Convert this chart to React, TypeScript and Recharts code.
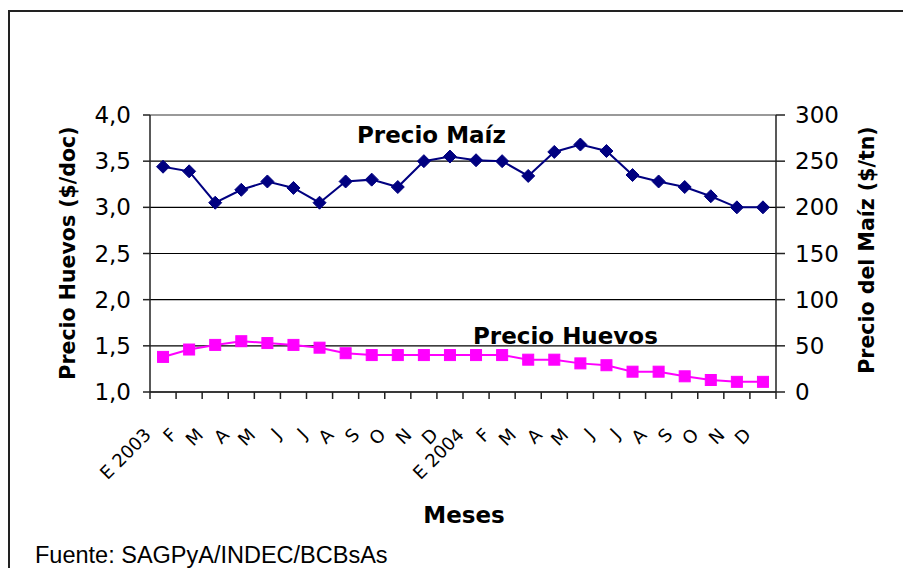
import React from "react";
import { LineChart, Line, XAxis, YAxis, CartesianGrid, ReferenceLine } from "recharts";

const months = ["E 2003", "F", "M", "A", "M", "J", "J", "A", "S", "O", "N", "D", "E 2004", "F", "M", "A", "M", "J", "J", "A", "S", "O", "N", "D"];
const maiz = [244, 239, 205, 219, 228, 221, 205, 228, 230, 222, 250, 255, 251, 250, 234, 260, 268, 261, 235, 228, 222, 212, 200, 200];
const huevos = [1.38, 1.46, 1.51, 1.55, 1.53, 1.51, 1.48, 1.42, 1.4, 1.4, 1.4, 1.4, 1.4, 1.4, 1.35, 1.35, 1.31, 1.29, 1.22, 1.22, 1.17, 1.13, 1.11, 1.11];
const leftTicks = [1, 1.5, 2, 2.5, 3, 3.5, 4];
const rightTicks = [0, 50, 100, 150, 200, 250, 300];

const data = months.map((m, i) => ({ key: i, month: m, maiz: maiz[i], huevos: huevos[i] }));

const W = 903;
const H = 568;
const LEFT_W = 150;
const RIGHT_W = 127;
const TOP = 115;
const X_H = 176;
const STEP = (W - LEFT_W - RIGHT_W) / months.length;
const FONT = "'Liberation Sans', Arial, sans-serif";
const WFONT = "'DejaVu Sans', sans-serif";

const XTick = (props: any) => {
  const { x, y, payload, index, visibleTicksCount } = props;
  const ax = x - 11;
  const ay = y + 44;
  return (
    <g>
      <line x1={x - STEP / 2} x2={x - STEP / 2} y1={y} y2={y + 7} stroke="#222" strokeWidth={1.5} />
      {index === visibleTicksCount - 1 && (
        <line x1={x + STEP / 2} x2={x + STEP / 2} y1={y} y2={y + 7} stroke="#222" strokeWidth={1.5} />
      )}
      <text x={ax} y={ay} transform={`rotate(-45 ${ax} ${ay})`} textAnchor="end" fontSize={18} fontFamily={WFONT} fill="#000">
        {months[payload.value]}
      </text>
    </g>
  );
};

const Diamond = (props: any) => {
  const { cx, cy, index } = props;
  if (cx == null || cy == null) return <g key={`d${index}`} />;
  const r = 6.5;
  return <path key={`d${index}`} d={`M${cx},${cy - r}L${cx + r},${cy}L${cx},${cy + r}L${cx - r},${cy}Z`} fill="#000080" stroke="#000080" />;
};

const Square = (props: any) => {
  const { cx, cy, index } = props;
  if (cx == null || cy == null) return <g key={`s${index}`} />;
  const s = 5.5;
  return <rect key={`s${index}`} x={cx - s} y={cy - s} width={2 * s} height={2 * s} fill="#FF00FF" stroke="#FF00FF" />;
};

export default function App() {
  return (
    <div style={{ position: "absolute", left: 0, top: 0, width: W, height: H, background: "#fff", overflow: "hidden" }}>
      <div style={{ position: "absolute", left: 8, top: 10, width: 2000, height: 2000, borderLeft: "2px solid #222", borderTop: "2px solid #222" }} />
      <div style={{ position: "absolute", left: 0, top: 0 }}>
        <LineChart width={W} height={H} data={data} margin={{ top: TOP, right: 0, bottom: 0, left: 0 }}>
          <CartesianGrid yAxisId="left" vertical={false} stroke="#000" strokeWidth={1.2} />
          <ReferenceLine yAxisId="left" y={4} stroke="#999" strokeWidth={2} />
          <XAxis
            dataKey="key"
            type="category"
            padding={{ left: STEP / 2, right: STEP / 2 }}
            height={X_H}
            interval={0}
            tickLine={false}
            tickSize={0}
            tickMargin={0}
            axisLine={{ stroke: "#222", strokeWidth: 1.5 }}
            tick={<XTick />}
          />
          <YAxis
            yAxisId="left"
            width={LEFT_W}
            domain={[1, 4]}
            ticks={leftTicks}
            interval={0}
            tickFormatter={(v: number) => v.toFixed(1).replace(".", ",")}
            tickSize={7}
            tickMargin={12}
            axisLine={{ stroke: "#222", strokeWidth: 1.5 }}
            tickLine={{ stroke: "#222", strokeWidth: 1.5 }}
            tick={{ fill: "#000", fontSize: 23, fontFamily: WFONT }}
          />
          <YAxis
            yAxisId="right"
            orientation="right"
            width={RIGHT_W}
            domain={[0, 300]}
            ticks={rightTicks}
            interval={0}
            tickSize={9}
            tickMargin={10}
            axisLine={{ stroke: "#222", strokeWidth: 1.5 }}
            tickLine={{ stroke: "#222", strokeWidth: 1.5 }}
            tick={{ fill: "#000", fontSize: 23, fontFamily: WFONT }}
          />
          <Line yAxisId="right" dataKey="maiz" stroke="#000080" strokeWidth={2} dot={Diamond} isAnimationActive={false} />
          <Line yAxisId="left" dataKey="huevos" stroke="#FF00FF" strokeWidth={2} dot={Square} isAnimationActive={false} />
        </LineChart>
      </div>
      <svg width={W} height={H} style={{ position: "absolute", left: 0, top: 0, pointerEvents: "none" }}>
        <g fill="#000">
          <text x={357} y={143} fontSize={23} fontWeight="bold" fontFamily={WFONT}>Precio Maíz</text>
          <text x={473} y={344} fontSize={23} fontWeight="bold" fontFamily={WFONT}>Precio Huevos</text>
          <text x={464} y={523} fontSize={23} fontWeight="bold" fontFamily={WFONT} textAnchor="middle">Meses</text>
          <text x={35} y={563} fontSize={23.5} fontFamily={FONT}>Fuente: SAGPyA/INDEC/BCBsAs</text>
          <text x={75} y={253} fontSize={20.5} fontWeight="bold" fontFamily={WFONT} textAnchor="middle" transform="rotate(-90 75 253)">Precio Huevos ($/doc)</text>
          <text x={874} y={250} fontSize={20.5} fontWeight="bold" fontFamily={WFONT} textAnchor="middle" transform="rotate(-90 874 250)">Precio del Maíz ($/tn)</text>
        </g>
      </svg>
    </div>
  );
}
